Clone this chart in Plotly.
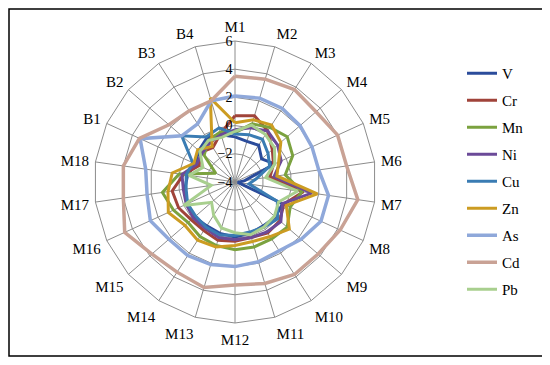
import plotly.graph_objects as go

categories = ["M1", "M2", "M3", "M4", "M5", "M6", "M7", "M8", "M9", "M10", "M11",
              "M12", "M13", "M14", "M15", "M16", "M17", "M18", "B1", "B2", "B3", "B4"]

v_vals = [-0.8, -1.0, -0.9, -1.5, -0.9, -3.3, -3.8, -0.3, -0.2, -0.3, -0.2,
          -0.1, -0.2, -0.3, -0.2, -0.3, -0.4, -0.6, -0.9, -0.6, -0.3, -0.5]
cr_vals = [0.7, 0.9, 0.3, -0.5, -1.0, -1.5, 0.9, -0.2, 0.2, 0.3, 0.1,
           0.2, 0.3, 0.1, 0.1, 0.4, 0.5, -0.3, -1.2, -0.8, -1.1, -0.4]
mn_vals = [-0.5, 0.3, 0.6, 0.9, 0.5, -0.4, 0.8, 0.3, 0.9, 0.8, 0.8,
           0.8, 0.7, 0.6, 0.4, 0.8, 1.2, 0.0, -2.5, -1.1, -0.5, -0.3]
ni_vals = [-0.3, 0.0, 0.3, 0.0, -0.4, -1.2, 1.5, -0.3, 0.3, 0.2, 0.1,
           0.1, 0.1, -0.1, -0.1, -0.2, -0.3, -0.2, -1.0, -0.9, -0.7, -0.5]
cu_vals = [-0.6, -0.5, -0.4, -0.9, -1.3, -2.5, -3.0, -0.7, 0.0, -0.2, -0.3,
           -0.2, -0.1, -0.2, -0.3, -0.3, -0.5, -0.5, -0.7, 1.0, -0.2, 0.0]
zn_vals = [0.2, 0.6, 0.8, 0.3, -0.6, -1.0, 1.9, 0.0, 1.1, 0.6, 0.4,
           0.5, 0.8, 0.9, 0.7, 1.2, 0.8, 0.5, -0.8, -0.5, -1.0, 2.2]
as_vals = [2.1, 2.2, 2.2, 2.1, 2.0, 2.0, 2.7, 2.7, 2.2, 1.8, 1.9,
           2.0, 2.1, 2.2, 2.2, 2.6, 2.3, 2.4, 3.4, 1.0, 0.9, 2.0]
cd_vals = [3.5, 3.6, 3.8, 3.6, 4.0, 4.0, 4.8, 4.2, 3.8, 3.8, 3.5,
           3.3, 3.8, 3.6, 3.8, 4.6, 4.0, 4.0, 3.45, 2.2, 2.0, 2.0]
pb_vals = [-0.4, 0.2, 0.0, -0.3, -0.9, -1.8, 0.5, -0.6, -0.3, -0.2, -0.1,
           -0.4, -0.6, -1.2, -1.8, 0.0, -2.3, -0.7, -1.5, -0.7, -0.5, -0.7]

radial_ticks = [-4, -2, 0, 2, 4, 6]

series = [
    ("V", v_vals, "#2B4C9B"),
    ("Cr", cr_vals, "#A0433A"),
    ("Mn", mn_vals, "#7BA23F"),
    ("Ni", ni_vals, "#6B4A98"),
    ("Cu", cu_vals, "#3A7CB3"),
    ("Zn", zn_vals, "#CC9C22"),
    ("As", as_vals, "#8FA8DA"),
    ("Cd", cd_vals, "#C9A295"),
    ("Pb", pb_vals, "#A8CF8E"),
]

# the page body has an 8px margin, so the figure is drawn 8px in from the corner
W, H = 542, 357

fig = go.Figure()
for name, vals, color in series:
    fig.add_trace(
        go.Scatterpolar(
            r=vals + vals[:1],
            theta=categories + categories[:1],
            mode="lines",
            name=name,
            legendgroup=name,
            line=dict(color=color, width=3.5 if name in ("As", "Cd") else 3),
        )
    )

serif = "Liberation Serif"

fig.update_layout(
    width=W,
    height=H,
    margin=dict(l=0, r=0, t=0, b=0),
    paper_bgcolor="white",
    plot_bgcolor="white",
    font=dict(family=serif, size=14, color="black"),
    polar=dict(
        domain=dict(x=[86 / W, 368 / W], y=[(H - 315) / H, (H - 33) / H]),
        gridshape="linear",
        bgcolor="white",
        radialaxis=dict(
            range=[-4, 6],
            tickvals=radial_ticks,
            angle=90,
            tickangle=90,
            side="counterclockwise",
            showline=False,
            ticks="",
            gridcolor="#8c8c8c",
            gridwidth=1,
            tickfont=dict(family=serif, size=14, color="black"),
        ),
        angularaxis=dict(
            rotation=90,
            direction="clockwise",
            gridcolor="#8c8c8c",
            gridwidth=1,
            linecolor="#8c8c8c",
            linewidth=1,
            ticks="outside",
            ticklen=3,
            tickcolor="rgba(0,0,0,0)",
            tickfont=dict(family=serif, size=15, color="black"),
        ),
    ),
    legend=dict(
        x=454 / W,
        y=0.514,
        yanchor="middle",
        font=dict(family=serif, size=15, color="black"),
        tracegroupgap=4.5,
        bgcolor="rgba(0,0,0,0)",
    ),
    shapes=[
        dict(type="rect", xref="paper", yref="paper", x0=1 / W, x1=537 / W, y0=(H - 348) / H,
             y1=(H - 1) / H, line=dict(color="black", width=1.5)),
    ],
)

fig.write_html("out.html")
